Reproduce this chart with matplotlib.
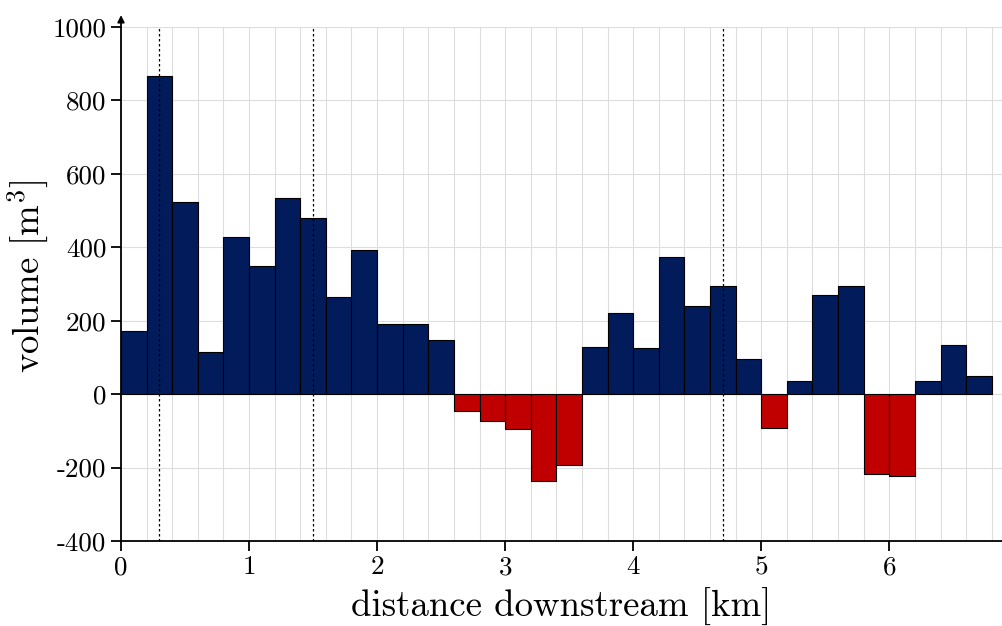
import numpy as np
import matplotlib.pyplot as plt

plt.rcParams['font.family'] = 'serif'
plt.rcParams['font.serif'] = ['cmr10']
plt.rcParams['mathtext.fontset'] = 'cm'
plt.rcParams['axes.unicode_minus'] = False

# volumen neto por tramo de 200 m
bin_width = 0.2
volumes = [172, 866, 523, 114, 428, 349, 534, 480, 264, 392,
           191, 191, 147, -46, -74, -95, -237, -193, 128, 221,
           125, 373, 240, 294, 95, -93, 35, 270, 294, -218,
           -223, 35, 134, 49]
marks_km = [0.3, 1.5, 4.7]
yticks = [-400, -200, 0, 200, 400, 600, 800, 1000]
xticks = [0, 1, 2, 3, 4, 5, 6]

left_edges = np.arange(len(volumes)) * bin_width
vol = np.array(volumes)
colors = np.where(vol >= 0, '#021b5b', '#c00000')

fig = plt.figure(figsize=(10.03, 6.26), dpi=100)
ax = fig.add_axes([121 / 1003, 85 / 626, 881 / 1003, 514 / 626])

ax.bar(left_edges, vol, width=bin_width, align='edge', color=colors,
       edgecolor='black', linewidth=0.8, zorder=3)

for xm in marks_km:
    ax.axvline(xm, color='black', linestyle=(0, (2, 2)), linewidth=0.9, zorder=4)

ax.set_xlim(0, 6.88)
ax.set_ylim(-400, 1000)
ax.set_xticks(xticks)
ax.set_xticklabels([str(t) for t in xticks])
ax.set_yticks(yticks)
ax.set_yticklabels([str(t) for t in yticks])
ax.set_xticks(np.arange(0, 6.81, 0.2), minor=True)
ax.tick_params(axis='x', which='minor', length=0)
ax.grid(True, which='both', axis='x', color='#dddddd', linewidth=0.8, zorder=0)
ax.grid(True, which='major', axis='y', color='#dddddd', linewidth=0.8, zorder=0)

ax.spines['top'].set_visible(False)
ax.spines['right'].set_visible(False)
for s in ['left', 'bottom']:
    ax.spines[s].set_linewidth(1.3)
ax.tick_params(axis='both', which='major', direction='out', length=7, width=1.3,
               labelsize=19.5)

# flecha del eje y
ax.annotate('', xy=(0, 1040), xytext=(0, 995), xycoords='data',
            arrowprops=dict(arrowstyle='-|>', color='black', lw=1.3,
                            mutation_scale=10), annotation_clip=False)

ax.set_xlabel('distance downstream [km]', fontsize=26.5, labelpad=6)
ax.set_ylabel(r'volume [m$^3$]', fontsize=26.5)
ax.yaxis.set_label_coords(-0.081, 0.515)

fig.savefig('out.png', dpi=100)
